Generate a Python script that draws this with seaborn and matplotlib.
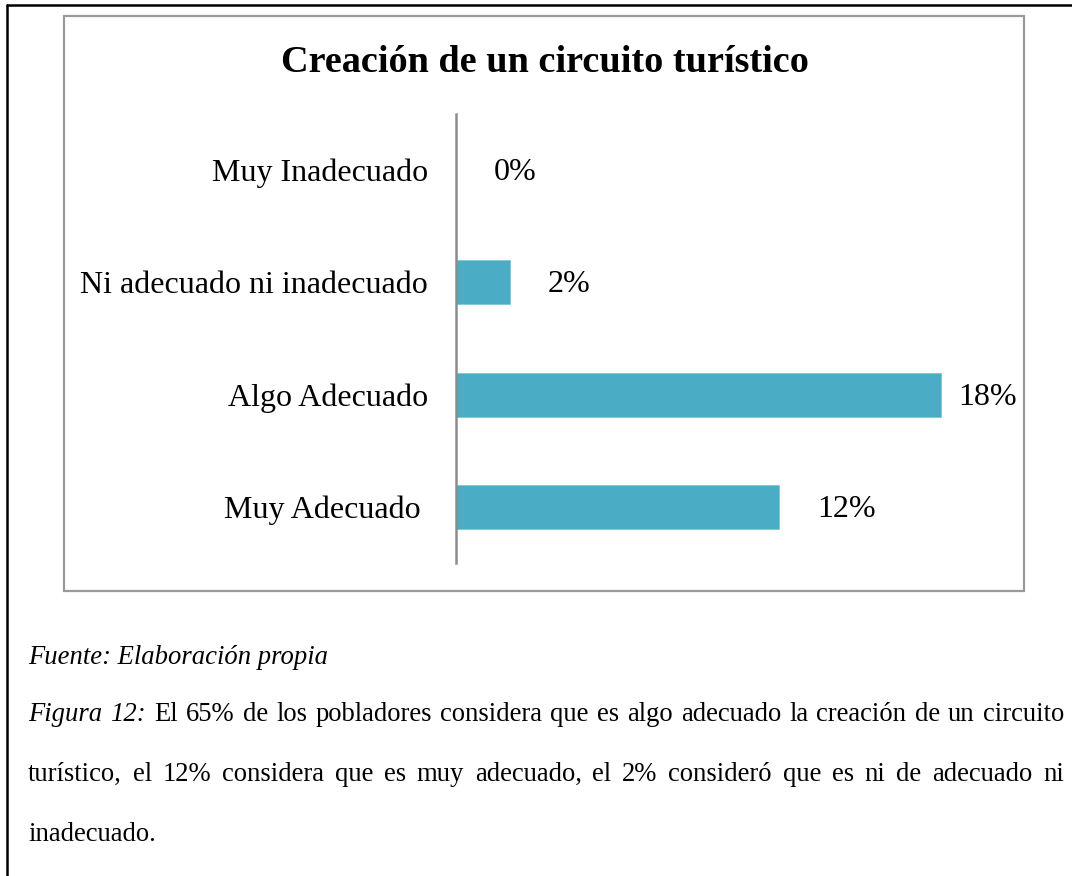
import matplotlib
matplotlib.use("Agg")
import matplotlib.pyplot as plt
import seaborn as sns
from matplotlib.lines import Line2D
from matplotlib.patches import Rectangle

# ---- data ----
categories = ["Muy Inadecuado", "Ni adecuado ni inadecuado", "Algo Adecuado", "Muy Adecuado "]
values = [0, 2, 18, 12]
value_labels = ["0%", "2%", "18%", "12%"]
title = "Creación de un circuito turístico"
source_text = "Fuente: Elaboración propia"
caption_lines = [
    [("Figura 12:", "italic"), ("El 65% de los pobladores considera que es algo adecuado la creación de un circuito", "normal")],
    [("turístico, el 12% considera que es muy adecuado, el 2% consideró que es ni de adecuado ni", "normal")],
    [("inadecuado.", "normal")],
]

W, H = 1072, 876
sns.set_style("white")
plt.rcParams["font.family"] = ["Liberation Serif", "DejaVu Serif"]
plt.rcParams["text.color"] = "black"
plt.rcParams["ytick.labelcolor"] = "black"
plt.rcParams["ytick.color"] = "black"

fig = plt.figure(figsize=(W / 100, H / 100), dpi=100)
fig.patch.set_facecolor("white")

def fx(px):
    return px / W

def fy(py):
    return 1 - py / H

# outer page border (top and left)
fig.add_artist(Line2D([fx(7), fx(W + 5)], [fy(5), fy(5)], color="black", lw=1.8, transform=fig.transFigure))
fig.add_artist(Line2D([fx(7), fx(7)], [fy(5), fy(H + 5)], color="black", lw=1.8, transform=fig.transFigure))

# chart box
fig.add_artist(Rectangle((fx(64), fy(591)), fx(1024) - fx(64), fy(16) - fy(591),
                         fill=False, edgecolor="#9a9a9a", lw=1.6, transform=fig.transFigure))

# axes
px_per_unit = 26.93
xmax = 20
ax_left, ax_top, ax_bottom = 456, 114, 563
ax = fig.add_axes([fx(ax_left), fy(ax_bottom), xmax * px_per_unit / W, (ax_bottom - ax_top) / H])
sns.barplot(x=values, y=categories, orient="h", color="#4BACC6", saturation=1,
            width=0.39, ax=ax, edgecolor="#7fc6d9", linewidth=0.6)
ax.set_xlim(0, xmax)
ax.set_facecolor("none")
for s in ["top", "right", "bottom"]:
    ax.spines[s].set_visible(False)
ax.spines["left"].set_color("#8c8c8c")
ax.spines["left"].set_linewidth(1.8)
ax.set_xticks([])
ax.set_xlabel("")
ax.set_ylabel("")
ax.tick_params(axis="y", length=0, pad=20, labelsize=23, labelcolor="black")

vmax = max(values)
for i, (v, lab) in enumerate(zip(values, value_labels)):
    off = 18 if v == vmax else 38
    ax.annotate(lab, xy=(v, i), xytext=(off, -10), textcoords="offset pixels",
                ha="left", va="baseline", fontsize=23, color="black")

# title
fig.text(fx(544.5), fy(72), title, ha="center", va="baseline", fontsize=27.5,
         fontweight="bold", color="black")

# source
fig.text(fx(28), fy(664), source_text, ha="left", va="baseline", fontsize=19.2,
         style="italic", color="black")

# justified caption
renderer = fig.canvas.get_renderer()
line_baselines = [721, 781, 841]
left_px, right_px = 28, 1064
for li, (segments, base) in enumerate(zip(caption_lines, line_baselines)):
    words = []
    for text, style in segments:
        for w in text.split(" "):
            words.append((w, style))
    objs = []
    for w, style in words:
        t = fig.text(0, fy(base), w, ha="left", va="baseline", fontsize=19.2,
                     style=style, color="black")
        objs.append(t)
    widths = [t.get_window_extent(renderer).width for t in objs]
    last = li == len(caption_lines) - 1
    if last or len(objs) < 2:
        space = 0.25 * 19.2 * 100 / 72
    else:
        space = (right_px - left_px - sum(widths)) / (len(objs) - 1)
    x = left_px
    for t, wdt in zip(objs, widths):
        t.set_x(fx(x))
        x += wdt + space

fig.savefig("out.png", dpi=100, facecolor="white")
